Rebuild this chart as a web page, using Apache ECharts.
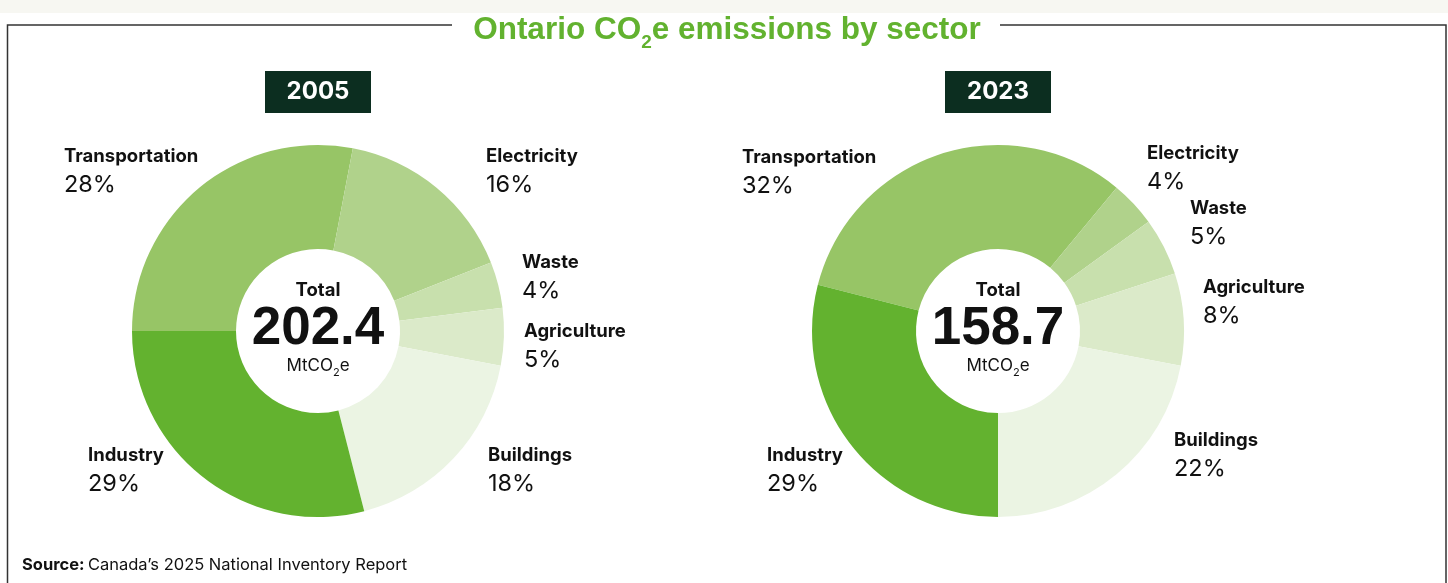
<!DOCTYPE html>
<html>
<head>
<meta charset="utf-8">
<script src="https://cdn.jsdelivr.net/npm/echarts@6/dist/echarts.min.js"></script>
<style>
html,body{margin:0;padding:0;background:#ffffff;}
#chart{width:1448px;height:583px;}
</style>
</head>
<body>
<div id="chart"></div>
<script>
// ---- data ----
const categories = ['Transportation', 'Electricity', 'Waste', 'Agriculture', 'Buildings', 'Industry'];
const share2005 = [28, 16, 4, 5, 18, 29];
const share2023 = [32, 4, 5, 8, 22, 29];
const years = ['2005', '2023'];
const totals = ['202.4', '158.7'];
const sectorColors = ['#97c566', '#b0d28b', '#c8e0ad', '#dbeac9', '#ebf4e3', '#63b22f'];

// ---- layout ----
const centers = [[318, 331], [998, 331]];
const radii = [82, 186];
const startAngles = [180, 165.6];
const labelPos = [
  [[64, 144], [486, 144], [522, 250], [524, 319], [488, 443], [88, 443]],
  [[742, 145], [1147, 141], [1190, 196], [1203, 275], [1174, 428], [767, 443]]
];
const labelFont = 'Inter, "Noto Sans", sans-serif';
const headFont = '"Liberation Sans", Arial, sans-serif';

const chart = echarts.init(document.getElementById('chart'), null, {renderer: 'canvas'});

const shares = [share2005, share2023];
const series = shares.map((vals, si) => ({
  type: 'pie',
  center: centers[si],
  radius: radii,
  startAngle: startAngles[si],
  clockwise: true,
  silent: true,
  avoidLabelOverlap: false,
  itemStyle: {borderWidth: 0},
  label: {
    show: true,
    position: 'outside',
    formatter: '{n|{b}}\n{p|{c}%}',
    rich: {
      n: {fontFamily: labelFont, fontWeight: 700, fontSize: 18.5, color: '#111', lineHeight: 25},
      p: {fontFamily: labelFont, fontWeight: 400, fontSize: 23.5, color: '#111', lineHeight: 32}
    }
  },
  labelLine: {show: false},
  labelLayout: function (params) {
    const p = labelPos[si][params.dataIndex];
    return {x: p[0], y: p[1], align: 'left', verticalAlign: 'top'};
  },
  data: categories.map((c, i) => ({name: c, value: vals[i]}))
}));

const graphics = [
  {type: 'rect', shape: {x: 0, y: 0, width: 1448, height: 13}, style: {fill: '#f7f7f2'}, silent: true},
  {type: 'polyline', shape: {points: [[452, 25], [7.5, 25], [7.5, 583]]}, style: {stroke: '#333', lineWidth: 1.5, fill: null}},
  {type: 'polyline', shape: {points: [[1000, 25], [1446, 25], [1446, 583]]}, style: {stroke: '#333', lineWidth: 1.5, fill: null}},
  {
    type: 'text', x: 727, y: 30,
    style: {
      text: '{a|Ontario CO}{s|2}{a|e emissions by sector}',
      align: 'center', verticalAlign: 'middle',
      rich: {
        a: {fontFamily: headFont, fontWeight: 700, fontSize: 31.5, fill: '#62b22f', lineHeight: 44},
        s: {fontFamily: headFont, fontWeight: 700, fontSize: 19, fill: '#62b22f', lineHeight: 16, verticalAlign: 'bottom'}
      }
    }
  },
  {
    type: 'text', x: 22, y: 565,
    style: {
      text: '{b|Source:} {r|Canada\u2019s 2025 National Inventory Report}',
      verticalAlign: 'middle',
      rich: {
        b: {fontFamily: labelFont, fontWeight: 700, fontSize: 16.5, fill: '#111'},
        r: {fontFamily: labelFont, fontWeight: 400, fontSize: 16.5, fill: '#111'}
      }
    }
  }
];

years.forEach((yr, i) => {
  const cx = centers[i][0], cy = centers[i][1];
  graphics.push({type: 'rect', shape: {x: cx - 53, y: 71, width: 106, height: 42}, style: {fill: '#0c2e20'}});
  graphics.push({type: 'text', x: cx, y: 92, style: {text: yr, align: 'center', verticalAlign: 'middle', fontFamily: labelFont, fontWeight: 700, fontSize: 24, fill: '#fff'}});
  graphics.push({type: 'text', x: cx, y: 290, style: {text: 'Total', align: 'center', verticalAlign: 'middle', fontFamily: labelFont, fontWeight: 700, fontSize: 18.5, fill: '#111'}});
  graphics.push({type: 'text', x: cx, y: 329, style: {text: totals[i], align: 'center', verticalAlign: 'middle', fontFamily: headFont, fontWeight: 700, fontSize: 53, fill: '#111'}});
  graphics.push({
    type: 'text', x: cx, y: 366,
    style: {
      text: '{u|MtCO}{s|2}{u|e}', align: 'center', verticalAlign: 'middle',
      rich: {
        u: {fontFamily: labelFont, fontSize: 17, fill: '#111', lineHeight: 24},
        s: {fontFamily: labelFont, fontSize: 11, fill: '#111', lineHeight: 10, verticalAlign: 'bottom'}
      }
    }
  });
});

chart.setOption({
  animation: false,
  backgroundColor: '#ffffff',
  color: sectorColors,
  series: series,
  graphic: graphics
});
</script>
</body>
</html>
